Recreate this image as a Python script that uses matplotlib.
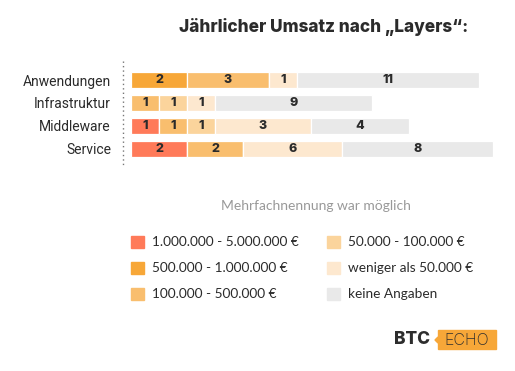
import matplotlib.pyplot as plt
from matplotlib.patches import Rectangle, Polygon
from matplotlib.lines import Line2D

title = 'Jährlicher Umsatz nach „Layers“:'
note = 'Mehrfachnennung war möglich'
layers = ['Anwendungen', 'Infrastruktur', 'Middleware', 'Service']
ranges = ['1.000.000 - 5.000.000 €', '500.000 - 1.000.000 €', '100.000 - 500.000 €',
          '50.000 - 100.000 €', 'weniger als 50.000 €', 'keine Angaben']
colors = ['#ff7a59', '#f7a738', '#f9be6e', '#fbd49c', '#fde8cf', '#e9e9e9']

# mentions per layer, one list per revenue range
counts_1m_5m = [0, 0, 1, 2]
counts_500k_1m = [2, 0, 0, 0]
counts_100k_500k = [3, 1, 1, 2]
counts_50k_100k = [0, 1, 1, 0]
counts_under_50k = [1, 1, 3, 6]
counts_none = [11, 9, 4, 8]

# segment lengths as drawn in the original (not to scale with the counts)
len_1m_5m = [0, 0, 1, 2]
len_500k_1m = [2, 0, 0, 0]
len_100k_500k = [2.93, 1, 1, 2]
len_50k_100k = [0, 1, 1, 0]
len_under_50k = [1, 1, 3.43, 3.55]
len_none = [6.5, 5.6, 3.5, 5.39]

counts = [counts_1m_5m, counts_500k_1m, counts_100k_500k,
          counts_50k_100k, counts_under_50k, counts_none]
lengths = [len_1m_5m, len_500k_1m, len_100k_500k,
           len_50k_100k, len_under_50k, len_none]

W, H = 515, 371
fig = plt.figure(figsize=(W / 100, H / 100), dpi=100)


def fx(x):
    return x / W


def fy(y):
    return 1 - y / H


ax = fig.add_axes([fx(131), fy(160), fx(364), (160 - 68.6) / H])

left = [0] * len(layers)
for cnt, ln, col in zip(counts, lengths, colors):
    bars = ax.barh(range(len(layers)), ln, left=left, height=0.7, color=col,
                   edgecolor='white', linewidth=0.9)
    ax.bar_label(bars, labels=[str(c) if c else '' for c in cnt], label_type='center',
                 fontsize=9, fontweight='heavy', color='#2b2b2b', family='Inter')
    left = [a + b for a, b in zip(left, ln)]

ax.set_xlim(0, 13)
ax.set_ylim(3.5, -0.5)
ax.set_yticks(range(len(layers)), layers, fontsize=10, family='Roboto', color='#2b2b2b')
ax.tick_params(axis='y', length=0, pad=14.4)
ax.set_xticks([])
for s in ax.spines.values():
    s.set_visible(False)

# dotted guide left of the bars
fig.add_artist(Line2D([fx(123), fx(123)], [fy(61), fy(165)], color='#777777',
                      linewidth=1, linestyle=(0, (1, 2.2))))

fig.text(fx(179), fy(27), title, fontsize=12.4, fontweight='heavy', family='Inter',
         color='#2b2b2b', va='center', ha='left')

fig.text(fx(316), fy(206), note, fontsize=10, family='Lato', color='#999999',
         ha='center', va='center')

# legend
for i, (name, col) in enumerate(zip(ranges, colors)):
    cx = 131 if i < 3 else 327
    cy = 242 + 26 * (i % 3)
    fig.add_artist(Rectangle((fx(cx), fy(cy + 6)), fx(12.5), 12.5 / H, color=col,
                             transform=fig.transFigure))
    fig.text(fx(cx + 21), fy(cy), name, fontsize=9.8, family='Lato', color='#2b2b2b',
             ha='left', va='center')

# BTC ECHO logo
fig.text(fx(394), fy(340), 'BTC', fontsize=12.5, fontweight='heavy', family='Inter',
         color='#2d2d2d', ha='left', va='center')
fig.add_artist(Rectangle((fx(438), fy(349)), fx(58), 19 / H, color='#f7a738',
                         transform=fig.transFigure))
fig.add_artist(Polygon([(fx(438), fy(337)), (fx(435), fy(340)), (fx(438), fy(343))],
                       closed=True, color='#f7a738', transform=fig.transFigure))
fig.text(fx(466.5), fy(340.5), 'ECHO', fontsize=11.5, fontweight='light', family='Inter',
         color='#2d2d2d', ha='center', va='center')

fig.savefig('out.png', dpi=100)
